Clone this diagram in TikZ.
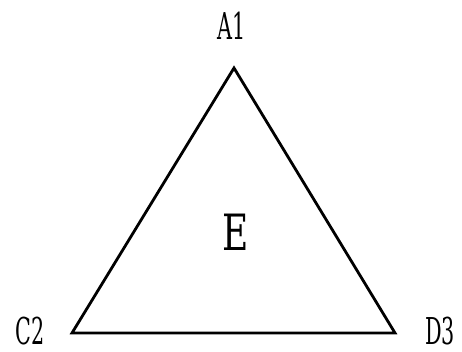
\documentclass[tikz,border=0pt]{standalone}
\usepackage{fontspec}
\setmainfont{DejaVu Serif}
\usetikzlibrary{positioning}
\newcommand{\narrowtext}[2]{\scalebox{#1}[1]{#2}}

\begin{document}
\begin{tikzpicture}[
  x=1pt, y=1pt,
  every node/.style={inner sep=0pt},
  vlabel/.style={font=\fontsize{37}{37}\selectfont},
  edge/.style={line width=2.8pt, line join=miter}
]
\useasboundingbox (0,0) rectangle (462,352);
% corners of the triangle
\coordinate (a) at (234,284);
\coordinate (c) at (72,19);
\coordinate (d) at (395,19);

\draw[edge] (a) -- (c) -- (d) -- cycle;

\node (la) [vlabel] at (232,326) {\narrowtext{0.56}{A1}};
\node (lc) [vlabel] at (30,21) {\narrowtext{0.56}{C2}};
\node (ld) [vlabel] at (440,21) {\narrowtext{0.56}{D3}};
\node (le) [font=\fontsize{50}{50}\selectfont] at (236,120) {\narrowtext{0.72}{E}};
\end{tikzpicture}
\end{document}
